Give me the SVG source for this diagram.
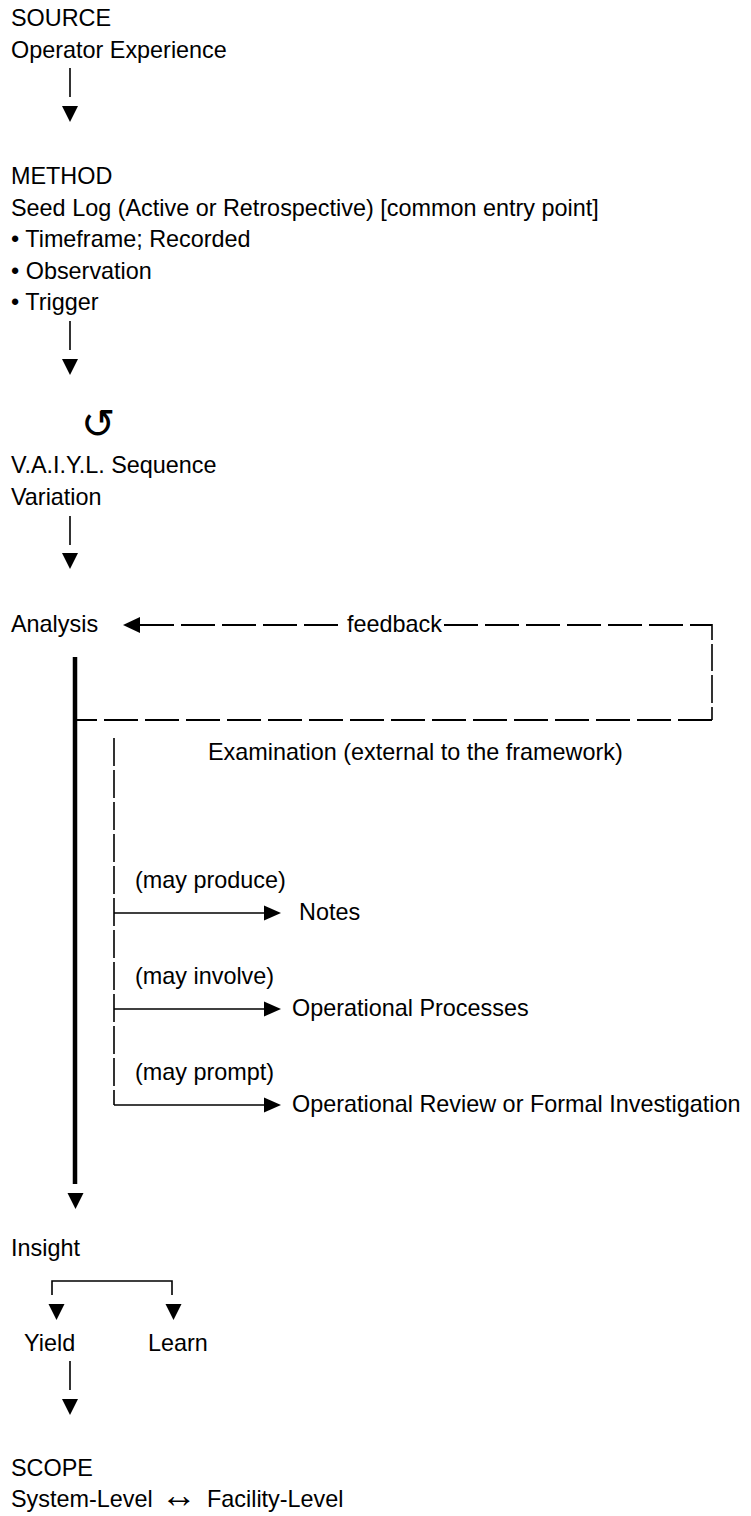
<svg xmlns="http://www.w3.org/2000/svg" xmlns:xlink="http://www.w3.org/1999/xlink" width="751" height="1516" viewBox="0 0 751 1516">
<style>
text{font-family:"Liberation Sans",Arial,sans-serif;font-size:23.4px;fill:#000}
text.sym{font-family:"DejaVu Sans",sans-serif;font-size:41px}
.ln{stroke:#000;stroke-width:1.6;fill:none}
.thick{stroke:#000;stroke-width:4.5;fill:none}
.dash{stroke:#000;stroke-width:1.8;fill:none;stroke-dasharray:34 7}
.seg{stroke:#000;stroke-width:1.6;fill:none}
.tri{fill:#000}
</style>
<defs>
<path id="tri-down" d="M-8,0 L8,0 L0,16 Z"/>
<path id="tri-right" d="M0,-7.5 L17,0 L0,7.5 Z"/>
<path id="tri-left" d="M0,0 L17,-8 L17,8 Z"/>
</defs>
<rect width="751" height="1516" fill="#fff"/>

<g id="source">
<text x="11" y="26">SOURCE</text>
<text x="11" y="57.6">Operator Experience</text>
</g>
<g id="method">
<text x="11" y="184">METHOD</text>
<text x="11" y="215.6">Seed Log (Active or Retrospective) [common entry point]</text>
<text x="11" y="247.2">• Timeframe; Recorded</text>
<text x="11" y="278.8">• Observation</text>
<text x="11" y="310.4">• Trigger</text>
</g>
<g id="vaiyl">
<text class="sym" x="81" y="438">↺</text>
<text x="11" y="473">V.A.I.Y.L. Sequence</text>
<text x="11" y="505">Variation</text>
</g>
<g id="analysis">
<text x="11" y="632">Analysis</text>
</g>
<g id="examination">
<text x="208" y="760">Examination (external to the framework)</text>
</g>
<g id="notes">
<text x="299" y="920">Notes</text>
</g>
<g id="operational-processes">
<text x="292" y="1016">Operational Processes</text>
</g>
<g id="operational-review">
<text x="292" y="1112">Operational Review or Formal Investigation</text>
</g>
<g id="insight">
<text x="11" y="1256">Insight</text>
</g>
<g id="yield">
<text x="24" y="1351">Yield</text>
</g>
<g id="learn">
<text x="148" y="1351">Learn</text>
</g>
<g id="scope">
<text x="11" y="1476">SCOPE</text>
<text x="11" y="1507">System-Level<tspan x="161" font-size="36">↔</tspan><tspan x="207">Facility-Level</tspan></text>
</g>

<g id="connectors">
<path class="ln" d="M70,68 V97"/>
<use href="#tri-down" xlink:href="#tri-down" class="tri" x="70" y="106"/>
<path class="ln" d="M70,321 V350"/>
<use href="#tri-down" xlink:href="#tri-down" class="tri" x="70" y="359"/>
<path class="ln" d="M70,516 V545"/>
<use href="#tri-down" xlink:href="#tri-down" class="tri" x="70" y="553"/>
<use href="#tri-left" xlink:href="#tri-left" class="tri" x="123" y="625"/>
<path class="dash" d="M140,625 H345"/>
<text x="347" y="632">feedback</text>
<path class="dash" d="M444,625 H712"/>
<path class="seg" d="M712,624 V640 M712,644 V671 M712,675 V703 M712,707 V720"/>
<path class="dash" d="M712,720 H77"/>
<path class="thick" d="M75,657 V1184"/>
<use href="#tri-down" xlink:href="#tri-down" class="tri" x="75.5" y="1193"/>
<path class="seg" d="M114,738 V766 M114,770 V798 M114,802 V830 M114,834 V862 M114,866 V894 M114,898 V926 M114,930 V958 M114,962 V990 M114,994 V1022 M114,1026 V1054 M114,1058 V1086 M114,1090 V1105"/>
<text x="135" y="888">(may produce)</text>
<path class="ln" d="M114,913 H264"/>
<use href="#tri-right" xlink:href="#tri-right" class="tri" x="264" y="913"/>
<text x="135" y="984">(may involve)</text>
<path class="ln" d="M114,1009 H264"/>
<use href="#tri-right" xlink:href="#tri-right" class="tri" x="264" y="1009"/>
<text x="135" y="1080">(may prompt)</text>
<path class="ln" d="M114,1105 H264"/>
<use href="#tri-right" xlink:href="#tri-right" class="tri" x="264" y="1105"/>
<path class="ln" d="M52,1295 V1281 H172 V1295"/>
<use href="#tri-down" xlink:href="#tri-down" class="tri" x="56.5" y="1304"/>
<use href="#tri-down" xlink:href="#tri-down" class="tri" x="173.5" y="1304"/>
<path class="ln" d="M70,1361 V1390"/>
<use href="#tri-down" xlink:href="#tri-down" class="tri" x="70" y="1399"/>
</g>
</svg>
